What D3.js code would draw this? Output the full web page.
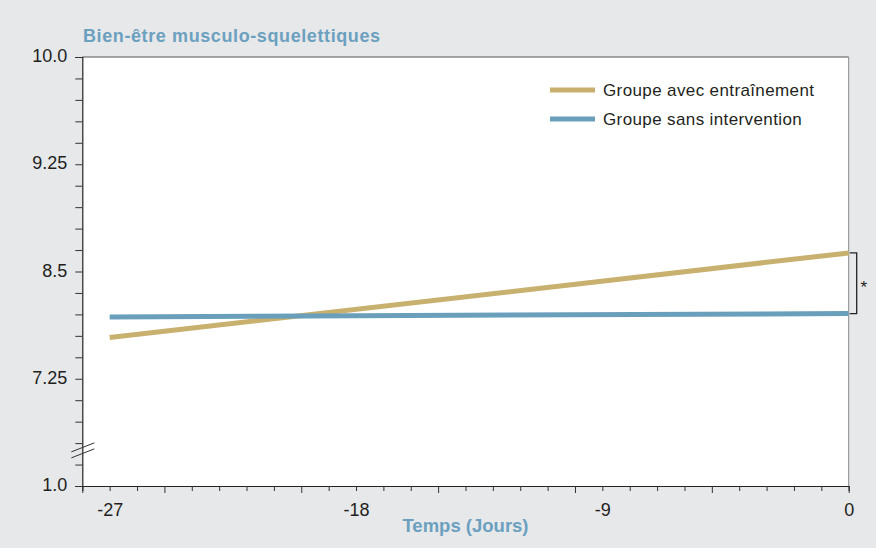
<!DOCTYPE html>
<html>
<head>
<meta charset="utf-8">
<script src="https://cdn.jsdelivr.net/npm/d3@7"></script>
<style>
  html, body { margin: 0; padding: 0; background: #e7e8ea; }
  svg { display: block; font-family: "Liberation Sans", Arial, Helvetica, sans-serif; }
</style>
</head>
<body>
<svg id="chart" width="876" height="548"></svg>
<script>
// Data
const dayRange = [-28, 0];
const xTickLabels = [-27, -18, -9, 0];
const yTickValues = [1.0, 7.25, 8.5, 9.25, 10.0];
const yTickLabels = ["1.0", "7.25", "8.5", "9.25", "10.0"];
const seriesNames = ["Groupe avec entraînement", "Groupe sans intervention"];
const seriesColors = ["#c8b06f", "#6a9fbb"];
const timepoints = [-27, 0];
const trainingValues = [7.73, 8.63];
const controlValues = [7.97, 8.01];
const chartTitle = "Bien-être musculo-squelettiques";
const xTitle = "Temps (Jours)";

(function draw() {
  const svg = d3.select("#chart");
  const W = 876, H = 548;
  const plotLeft = 82.3, plotRight = 848.7, plotTop = 57, plotBottom = 486;

  svg.append("rect").attr("width", W).attr("height", H).attr("fill", "#e7e8ea");
  svg.append("rect").attr("x", plotLeft).attr("y", plotTop)
    .attr("width", plotRight - plotLeft).attr("height", plotBottom - plotTop).attr("fill", "#ffffff");

  // Scales: the value axis is broken between 1.0 and 7.25, so each labelled
  // interval gets an equal share of the height.
  const x = d3.scaleLinear().domain(dayRange).range([plotLeft, plotRight]);
  const y = d3.scaleLinear()
    .domain(yTickValues)
    .range(yTickValues.map((d, i) => plotBottom - i * (plotBottom - plotTop) / (yTickValues.length - 1)));

  // Plot frame (top and right)
  svg.append("line").attr("x1", plotLeft).attr("x2", plotRight).attr("y1", plotTop).attr("y2", plotTop)
    .attr("stroke", "#555").attr("stroke-width", 1);
  svg.append("line").attr("x1", plotRight).attr("x2", plotRight).attr("y1", plotTop).attr("y2", plotBottom)
    .attr("stroke", "#8a8a8a").attr("stroke-width", 1);

  // X axis: one tick per day, longer every 5 days
  const days = d3.range(dayRange[0], dayRange[1] + 1);
  const xAxis = d3.axisBottom(x)
    .tickValues(days)
    .tickSizeOuter(0)
    .tickSize(5)
    .tickPadding(12)
    .tickFormat(d => xTickLabels.includes(d) ? String(d) : "");
  const gx = svg.append("g").attr("transform", `translate(0,${plotBottom})`).call(xAxis);
  gx.select(".domain").attr("stroke", "#222").attr("stroke-width", 1.2);
  gx.selectAll(".tick line")
    .attr("stroke", "#333")
    .attr("y2", d => (d % 5 === 0 || d === dayRange[0]) ? 7 : 5);
  gx.selectAll(".tick text")
    .attr("fill", "#231f20")
    .style("font-size", "18px");

  // Y axis: labelled ticks plus four minor ticks in each interval
  const yMinor = [];
  for (let i = 0; i < yTickValues.length - 1; i++) {
    const a = yTickValues[i], b = yTickValues[i + 1];
    for (let k = 1; k < 5; k++) yMinor.push(a + k * (b - a) / 5);
  }
  const yAxis = d3.axisLeft(y)
    .tickValues(yTickValues.concat(yMinor))
    .tickSizeOuter(0)
    .tickSize(7)
    .tickPadding(8)
    .tickFormat(d => {
      const i = yTickValues.indexOf(d);
      return i >= 0 ? yTickLabels[i] : "";
    });
  const gy = svg.append("g").attr("transform", `translate(${plotLeft},0)`).call(yAxis);
  gy.select(".domain").attr("stroke", "#222").attr("stroke-width", 1.2);
  gy.selectAll(".tick line").attr("stroke", "#333");
  gy.selectAll(".tick text")
    .attr("fill", "#231f20")
    .attr("dy", "0.25em")
    .style("font-size", "18px");

  // Axis break marks
  const yBreak = (y(yTickValues[0]) + y(yTickValues[1])) / 2 + 18;
  [-3, 3].forEach(off => {
    svg.append("line")
      .attr("x1", plotLeft - 11).attr("y1", yBreak + off + 4.5)
      .attr("x2", plotLeft + 12).attr("y2", yBreak + off - 4.5)
      .attr("stroke", "#333").attr("stroke-width", 1);
  });

  // Series lines
  const line = d3.line().x(d => x(d[0])).y(d => y(d[1]));
  const series = [trainingValues, controlValues];
  series.forEach((vals, i) => {
    svg.append("path")
      .datum(timepoints.map((t, j) => [t, vals[j]]))
      .attr("d", line)
      .attr("fill", "none")
      .attr("stroke", seriesColors[i])
      .attr("stroke-width", 5);
  });

  // Significance bracket at day 0
  const yA = y(trainingValues[1]), yB = y(controlValues[1]);
  const bx = x(0);
  svg.append("path")
    .attr("d", `M${bx + 1},${yA}H${bx + 8}V${yB}H${bx + 1}`)
    .attr("fill", "none").attr("stroke", "#222").attr("stroke-width", 1.3);
  svg.append("text")
    .attr("x", bx + 15).attr("y", (yA + yB) / 2 + 10)
    .attr("text-anchor", "middle")
    .attr("fill", "#231f20")
    .style("font-size", "17px")
    .text("*");

  // Legend
  seriesNames.forEach((name, i) => {
    const ly = 90 + i * 29;
    svg.append("line")
      .attr("x1", 550).attr("x2", 595).attr("y1", ly).attr("y2", ly)
      .attr("stroke", seriesColors[i]).attr("stroke-width", 5);
    svg.append("text")
      .attr("x", 603).attr("y", ly + 6)
      .attr("fill", "#231f20")
      .style("font-size", "17px")
      .style("letter-spacing", "0.38px")
      .text(name);
  });

  // Titles
  svg.append("text")
    .attr("x", 83).attr("y", 42)
    .attr("fill", "#6ba0bf")
    .style("font-size", "18px")
    .style("font-weight", "bold")
    .style("letter-spacing", "0.6px")
    .text(chartTitle);
  svg.append("text")
    .attr("x", (plotLeft + plotRight) / 2).attr("y", 532)
    .attr("text-anchor", "middle")
    .attr("fill", "#6ba0bf")
    .style("font-size", "18.5px")
    .style("font-weight", "bold")
    .text(xTitle);
})();
</script>
</body>
</html>
